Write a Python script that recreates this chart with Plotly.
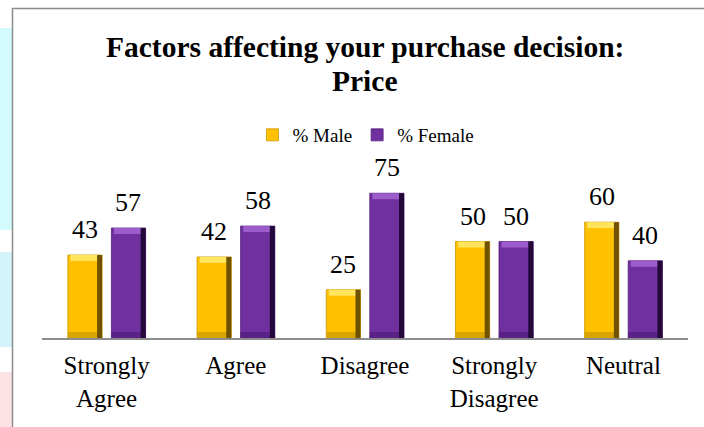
import plotly.graph_objects as go

categories = ["Strongly<br>Agree", "Agree", "Disagree", "Strongly<br>Disagree", "Neutral"]
male = [43, 42, 25, 50, 60]
female = [57, 58, 75, 50, 40]
series_names = ["% Male", "% Female"]
title_lines = ["Factors affecting your purchase decision:", "Price"]

W, H = 704, 427
L, R, T, B = 42, 16, 145, 89
pw, ph = W - L - R, H - T - B
Y_MAX = 100  # 193 px / 100 units ~ 1.93 px per unit

def px_x(x):
    return (x - L) / pw

def px_y(y):
    return (H - B - y) / ph

UNIT_PX = ph / Y_MAX
FONT = "Liberation Serif, Times New Roman, serif"

styles = [
    dict(offset=-0.300, base="#FFC000", light="#FFE45C", edge="#C99700",
         dark="#6E5200", bottom="#D9A300"),
    dict(offset=0.037, base="#7030A0", light="#9C5CCB", edge="#55207C",
         dark="#24083A", bottom="#5A2286"),
]
BW = 0.265           # bar width in category units
EDGE = 5 / pw * 5    # right dark edge width in category units (~5px)
TOP_H = 6 / UNIT_PX  # top highlight height in value units (~6px)
BOT_H = 6 / UNIT_PX  # bottom shade height (~6px)

fig = go.Figure()
for vals, name, st in zip([male, female], series_names, styles):
    fig.add_trace(go.Bar(
        x=categories, y=vals, name=name, offset=st["offset"], width=BW,
        marker=dict(color=st["base"], line=dict(color=st["edge"], width=0.8)),
        hoverinfo="skip",
    ))
    fig.add_trace(go.Bar(
        x=categories, y=[BOT_H] * len(vals), offset=st["offset"], width=BW,
        marker=dict(color=st["bottom"], line=dict(width=0)), showlegend=False,
        hoverinfo="skip",
    ))
    fig.add_trace(go.Bar(
        x=categories, y=[TOP_H] * len(vals), base=[v - TOP_H for v in vals],
        offset=st["offset"] + 0.02, width=BW - 0.04,
        marker=dict(color=st["light"], line=dict(width=0)), showlegend=False,
        hoverinfo="skip",
    ))
    fig.add_trace(go.Bar(
        x=categories, y=vals, offset=st["offset"] + BW - EDGE, width=EDGE,
        marker=dict(color=st["dark"], line=dict(width=0)), showlegend=False,
        hoverinfo="skip",
    ))

annotations = []
for vals, st in zip([male, female], styles):
    shift = (st["offset"] + BW / 2) * pw / 5
    for c, v in zip(categories, vals):
        annotations.append(dict(
            x=c, y=v, xref="x", yref="y", text=str(v), showarrow=False,
            xanchor="center", yanchor="bottom", xshift=shift, yshift=9,
            font=dict(family=FONT, size=26, color="#000"),
        ))

annotations.append(dict(
    x=px_x(365), y=px_y(47), xref="paper", yref="paper", text="<b>" + title_lines[0] + "</b>",
    showarrow=False, xanchor="center", yanchor="middle",
    font=dict(family=FONT, size=29.5, color="#000"),
))
annotations.append(dict(
    x=px_x(365), y=px_y(81), xref="paper", yref="paper", text="<b>" + title_lines[1] + "</b>",
    showarrow=False, xanchor="center", yanchor="middle",
    font=dict(family=FONT, size=29.5, color="#000"),
))

shapes = [
    dict(type="rect", xref="paper", yref="paper", x0=px_x(0), x1=px_x(12),
         y0=px_y(230), y1=px_y(28), fillcolor="#D4FBFC", line_width=0, layer="below"),
    dict(type="rect", xref="paper", yref="paper", x0=px_x(0), x1=px_x(12),
         y0=px_y(347), y1=px_y(252), fillcolor="#D4F3FA", line_width=0, layer="below"),
    dict(type="rect", xref="paper", yref="paper", x0=px_x(0), x1=px_x(12),
         y0=px_y(430), y1=px_y(372), fillcolor="#FDE2E4", line_width=0, layer="below"),
    dict(type="rect", xref="paper", yref="paper", x0=px_x(12.5), x1=px_x(720),
         y0=px_y(440), y1=px_y(8.5), fillcolor="rgba(0,0,0,0)",
         line=dict(color="#8C8C8C", width=1.5), layer="below"),
]

fig.update_layout(
    width=W, height=H,
    margin=dict(l=L, r=R, t=T, b=B, autoexpand=False),
    paper_bgcolor="white", plot_bgcolor="white",
    barmode="overlay",
    legend=dict(
        orientation="h", x=px_x(366), xanchor="center", xref="paper",
        y=px_y(135), yanchor="middle", yref="paper",
        font=dict(family=FONT, size=19, color="#000"),
        itemwidth=30, traceorder="normal",
    ),
    xaxis=dict(
        showline=True, linecolor="#8C8C8C", linewidth=2,
        tickfont=dict(family=FONT, size=25, color="#000"),
        ticks="", showgrid=False, fixedrange=True, ticklabelstandoff=4,
    ),
    yaxis=dict(range=[0, Y_MAX], visible=False, showgrid=False, fixedrange=True),
    shapes=shapes,
    annotations=annotations,
    font=dict(family=FONT),
    showlegend=True,
)

fig.write_html("out.html", config={"displayModeBar": False},
               post_script="document.body.style.margin='0';")
